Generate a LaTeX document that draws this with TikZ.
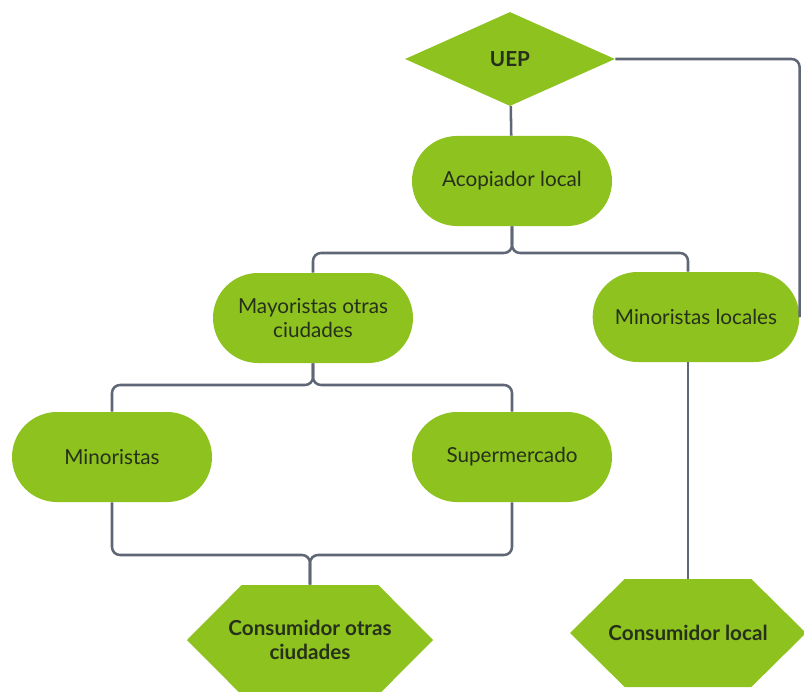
\documentclass[tikz,border=0pt]{standalone}
\usepackage{fontspec}
\setmainfont{Lato}
\usepackage{tikz}
\usetikzlibrary{shapes.geometric,calc}
\definecolor{leaf}{HTML}{8DC21F}
\definecolor{wire}{HTML}{5F6675}
\definecolor{ink}{HTML}{26301A}
\tikzset{
         stadium/.style=
          {
           fill=leaf,
           rounded corners=33.75,
           minimum width=150,
           minimum height=67.5,
           text=ink,
           align=center,
           font=\fontsize{15.5}{18}\selectfont
          },
         decision/.style=
          {
           shape=diamond,
           fill=leaf,
           minimum width=157.5,
           minimum height=70.5,
           inner sep=0,
           text=ink,
           font=\fontsize{15.5}{18}\selectfont\bfseries
          },
         terminal/.style=
          {
           inner sep=0,
           text=ink,
           align=center,
           font=\fontsize{15.5}{18}\selectfont\bfseries,
           path picture=
            {
             \fill[leaf](path picture bounding box.west)
              --([xshift=41pt]path picture bounding box.north west)
              --([xshift=-41pt]path picture bounding box.north east)
              --(path picture bounding box.east)
              --([xshift=-41pt]path picture bounding box.south east)
              --([xshift=41pt]path picture bounding box.south west)--cycle;
            }
          },
         link/.style={draw=wire,line width=1.9,rounded corners=6}
        }

\begin{document}
\begin{tikzpicture}[x=0.75pt,y=-0.75pt]
\useasboundingbox(0,0)rectangle(804,692);
%boxes
\node[decision] (uep) at(510,59){UEP};
\node[stadium] (acop) at(512,181){Acopiador local};
\node[stadium] (mayor) at(313,318){Mayoristas otras\\ciudades};
\node[stadium,minimum width=155] (minloc) at(696,317){Minoristas locales};
\node[stadium] (mino) at(112,457){Minoristas};
\node[stadium] (super) at(512,457){Supermercado};
\node[terminal,minimum width=184.5,minimum height=82.5] (consot) at(310,640){Consumidor otras\\ciudades};
\node[terminal,minimum width=177,minimum height=81] (consloc) at(688,633){Consumidor local};
%junctions
\coordinate (j1) at(512,253);
\coordinate (j2) at(313,385);
\coordinate (j3) at(310,555);
%lines
\draw[link](uep)--(acop);
\draw[link](uep.east)-|(minloc.east);
\draw[link](acop)--(j1)-|(mayor);
\draw[link](acop)--(j1)-|(consloc.north|-minloc.north);
\draw[link](mayor)--(j2)-|(mino);
\draw[link](mayor)--(j2)-|(super);
\draw[link](mino)|-(j3)--(consot);
\draw[link](super)|-(j3)--(consot);
\draw[link](consloc.north|-minloc.south)--(consloc);
\end{tikzpicture}
\end{document}
